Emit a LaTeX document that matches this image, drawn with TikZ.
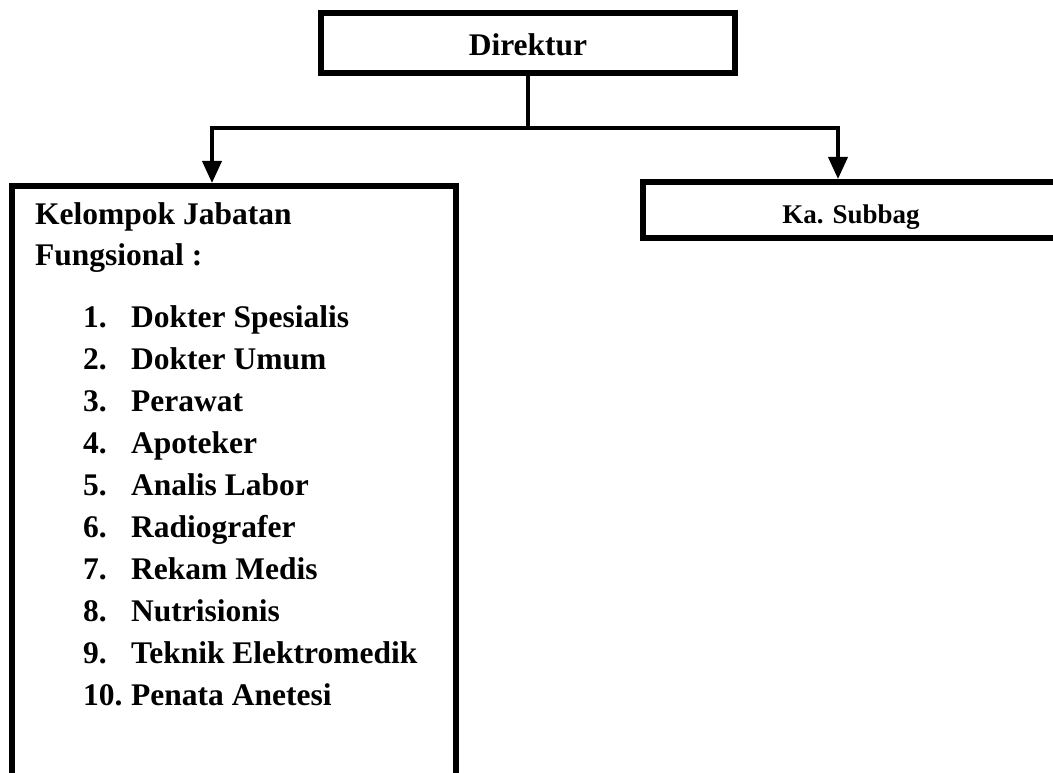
\documentclass[tikz,border=0pt]{standalone}
\usepackage{fontspec}
\setmainfont{Liberation Serif}
\usetikzlibrary{positioning,arrows.meta}

\tikzset{
  office/.style={draw, rectangle, line width=6pt, inner sep=0pt,
    font=\fontsize{31.5}{38}\selectfont\bfseries},
  link/.style={line width=3.8pt, >={Triangle[length=22pt, width=19pt]}},
  entry/.style={inner sep=0pt, anchor=base west,
    font=\fontsize{31.5}{38}\selectfont\bfseries},
}

\begin{document}
\begin{tikzpicture}[x=1pt, y=-1pt]

    \useasboundingbox (0,0) rectangle (1053,773);
    \clip (0,0) rectangle (1053,773);

    % boxes
    \node[office, minimum width=414pt, minimum height=60pt, text height=26pt, text depth=0pt] (dir) at (528,43) {Direktur};
    \node[office, minimum width=444pt, minimum height=620pt, anchor=north] (jf) at (234,183) {};
    \node[office, minimum width=416pt, minimum height=56pt, text height=26pt, text depth=0pt,
        font=\fontsize{27}{32}\selectfont\bfseries] (ks) at (851,210) {Ka. Subbag};

    % list inside jf
    \node[entry] (head1) at (35,225) {Kelompok Jabatan};
    \node[entry] (head2) at (35,265) {Fungsional :};
    \foreach \name [count=\i] in {Dokter Spesialis, Dokter Umum, Perawat, Apoteker, Analis Labor,
        Radiografer, Rekam Medis, Nutrisionis, Teknik Elektromedik, Penata Anetesi} {
        \node[entry] (num\i) at (83, {327+42*(\i-1)}) {\i.};
        \node[entry] (item\i) at (131, {327+42*(\i-1)}) {\name};
    }

    % connectors
    \coordinate (cab) at ([yshift=-52pt]dir.south);
    \coordinate (kiri) at (212,128);
    \coordinate (kanan) at (838,128);
    \draw[link] (dir) -- (cab);
    \draw[link, <->] (kiri |- jf.north) |- (kanan) -- (kanan |- ks.north);

\end{tikzpicture}
\end{document}
